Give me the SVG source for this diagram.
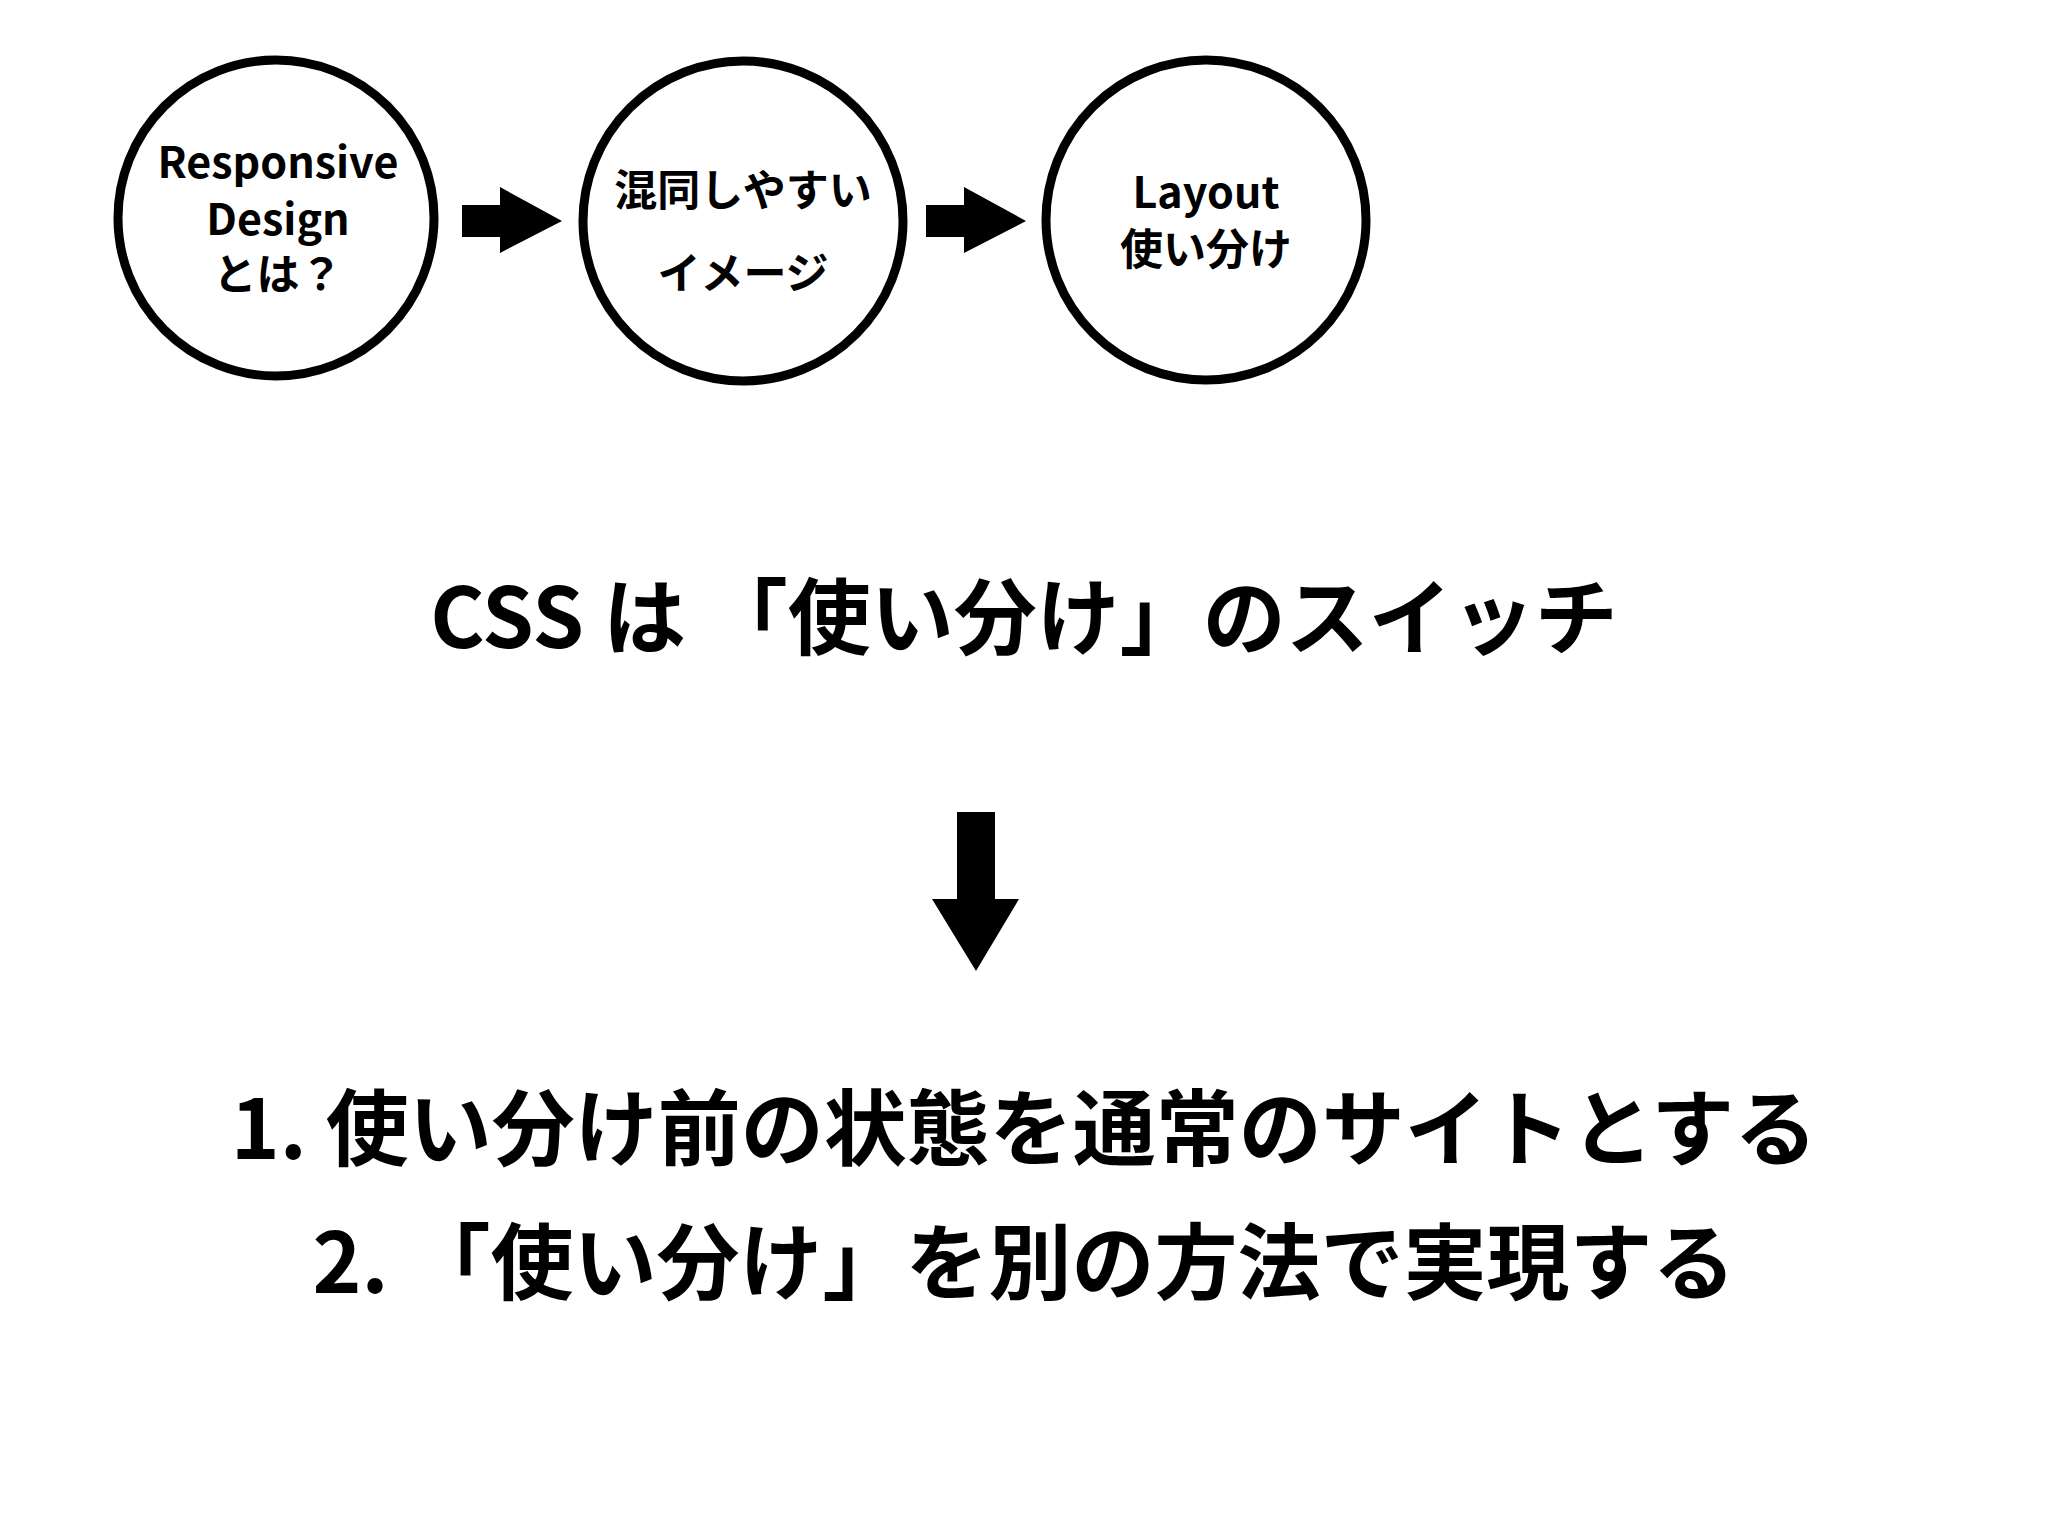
<svg xmlns="http://www.w3.org/2000/svg" width="2048" height="1536" viewBox="0 0 2048 1536">
<style>
.c{fill:#fff;stroke:#000;stroke-width:9}
.t{font-family:"Noto Sans CJK JP","Liberation Sans",sans-serif;font-weight:bold;fill:#000;text-anchor:middle}
.s{font-size:43px}
.b{font-size:83px}
</style>
<rect width="2048" height="1536" fill="#fff"/>
<g id="n1"><circle class="c" cx="276" cy="218" r="158"/>
<text class="t s" x="278" y="178">Responsive</text>
<text class="t s" x="278" y="235">Design</text>
<text class="t s" x="278" y="290">とは？</text></g>
<g id="n2"><circle class="c" cx="743" cy="221" r="160"/>
<text class="t s" x="743" y="206">混同しやすい</text>
<text class="t s" x="743" y="289">イメージ</text></g>
<g id="n3"><circle class="c" cx="1206" cy="220" r="160"/>
<text class="t s" x="1206" y="208">Layout</text>
<text class="t s" x="1206" y="265">使い分け</text></g>
<g id="connectors">
<polygon points="462,205 500,205 500,187 562,221 500,253 500,237 462,237"/>
<polygon points="926,205 964,205 964,187 1026,221 964,253 964,237 926,237"/>
<polygon points="957,812 995,812 995,899 1019,899 976,971 932,899 957,899"/>
</g>
<g id="title"><text class="t b" x="1024" y="648">CSS は 「使い分け」のスイッチ</text></g>
<g id="list">
<text class="t b" x="1024" y="1159">1. 使い分け前の状態を通常のサイトとする</text>
<text class="t b" x="1024" y="1293">2. 「使い分け」を別の方法で実現する</text>
</g>
</svg>
